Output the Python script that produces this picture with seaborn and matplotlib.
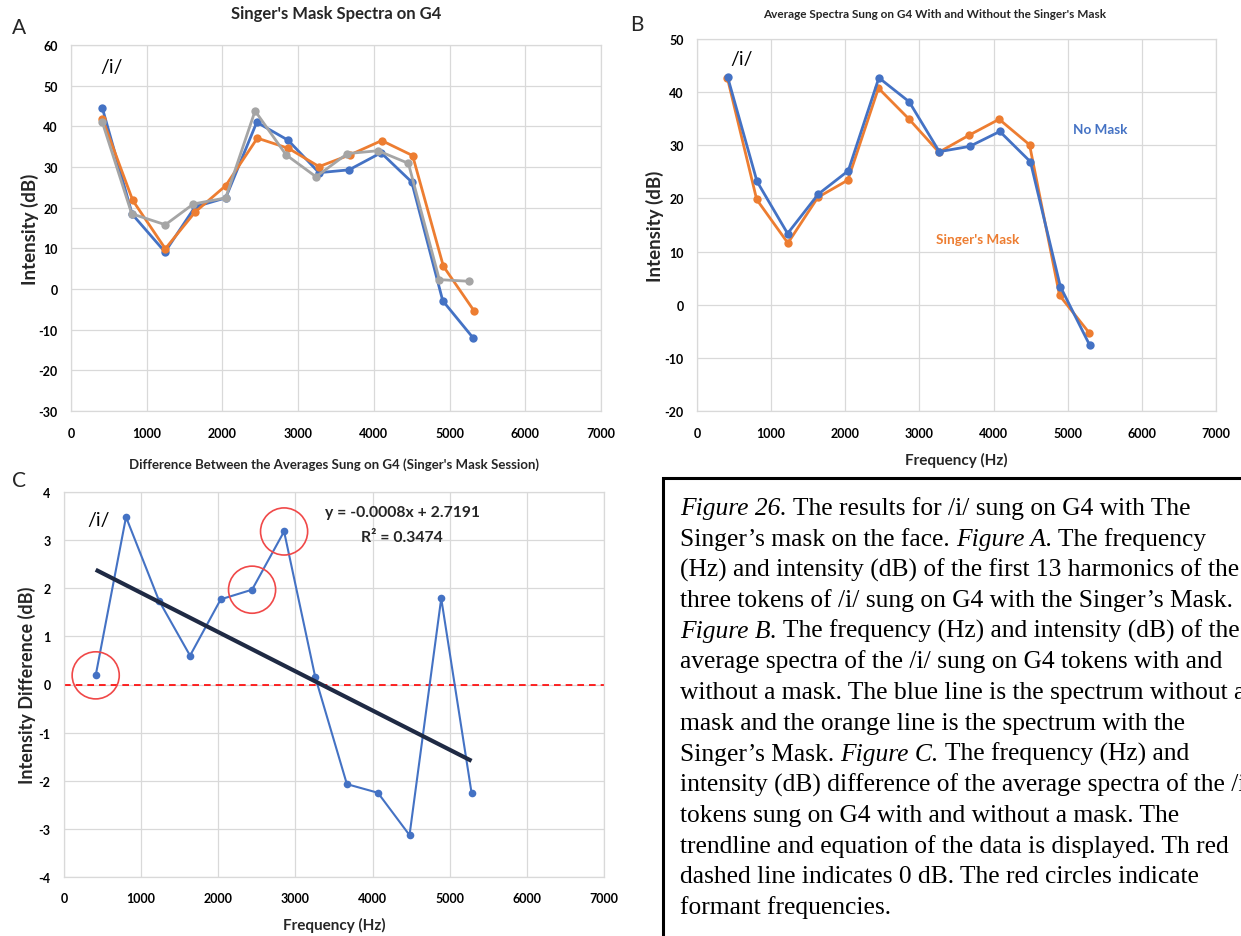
import matplotlib
matplotlib.use("Agg")
import matplotlib.pyplot as plt
from matplotlib.patches import Rectangle
import numpy as np
import pandas as pd
import seaborn as sns

# ---------------- data ----------------
# Panel A: three tokens of /i/ on G4 with the Singer's Mask (harmonics 1-13)
a_freq_1 = [414, 808, 1242, 1638, 2043, 2453, 2866, 3276, 3672, 4095, 4500, 4910, 5310]
a_int_1 = [44.5, 18.4, 9.1, 20.2, 22.4, 41.0, 36.6, 28.6, 29.3, 33.5, 26.3, -2.9, -12.0]
a_freq_2 = [414, 815, 1246, 1638, 2043, 2461, 2871, 3276, 3686, 4104, 4512, 4918, 5328]
a_int_2 = [41.9, 21.8, 9.9, 18.9, 25.4, 37.1, 34.6, 30.1, 33.0, 36.5, 32.8, 5.6, -5.5]
a_freq_3 = [414, 802, 1246, 1616, 2043, 2431, 2840, 3236, 3650, 4055, 4456, 4865, 5257]
a_int_3 = [41.0, 18.5, 15.8, 20.9, 22.4, 43.8, 33.0, 27.6, 33.3, 34.0, 30.9, 2.3, 1.9]

# Panel B: average spectra with and without the mask
b_freq_nomask = [414, 809, 1222, 1635, 2040, 2453, 2861, 3268, 3679, 4084, 4497, 4901, 5296]
b_int_nomask = [42.8, 23.2, 13.4, 20.8, 25.2, 42.7, 38.2, 28.8, 29.8, 32.6, 26.9, 3.4, -7.6]
b_freq_mask = [411, 805, 1226, 1630, 2035, 2447, 2855, 3263, 3670, 4075, 4485, 4890, 5290]
b_int_mask = [42.6, 19.8, 11.6, 20.2, 23.45, 40.75, 35.0, 28.7, 31.9, 34.9, 30.1, 1.75, -5.3]

# Panel C: difference between the averages (no mask - mask)
c_freq = [411, 804, 1232, 1634, 2032, 2438, 2853, 3256, 3667, 4069, 4479, 4890, 5283]
c_diff = [0.19, 3.48, 1.74, 0.60, 1.77, 1.97, 3.18, 0.16, -2.07, -2.25, -3.13, 1.79, -2.25]
formant_idx = [0, 5, 6]
trend_slope = -0.000815
trend_intercept = 2.7191
r_squared = 0.3474

freq_ticks = list(range(0, 7001, 1000))

# ---------------- style ----------------
sns.set_theme(style="whitegrid")
plt.rcParams["font.family"] = ["Lato", "DejaVu Sans"]
plt.rcParams["axes.unicode_minus"] = False
plt.rcParams["axes.edgecolor"] = "#D9D9D9"
plt.rcParams["grid.color"] = "#D9D9D9"
plt.rcParams["grid.linewidth"] = 0.9
plt.rcParams["axes.linewidth"] = 0.9

BLUE = "#4472C4"
ORANGE = "#ED7D31"
GRAY = "#A5A5A5"

W, H = 1241, 937
fig = plt.figure(figsize=(W / 100, H / 100), dpi=100)
fig.patch.set_facecolor("white")


def axes_px(left, right, top, bottom):
    return fig.add_axes([left / W, 1 - bottom / H, (right - left) / W, (bottom - top) / H])


def style_axes(ax, ylim, ystep, xpad, ypad, tick_size=9):
    ax.set_xlim(0, 7000)
    ax.set_ylim(*ylim)
    ax.set_xticks(freq_ticks)
    ax.set_yticks(np.arange(ylim[0], ylim[1] + 0.001, ystep))
    ax.tick_params(axis="both", length=0, labelsize=tick_size, colors="black")
    ax.tick_params(axis="x", pad=xpad)
    ax.tick_params(axis="y", pad=ypad)
    for lab in ax.get_xticklabels() + ax.get_yticklabels():
        lab.set_fontweight("bold")
    ax.set_facecolor("white")
    ax.grid(True, color="#D9D9D9", linewidth=0.9)
    for s in ax.spines.values():
        s.set_color("#D9D9D9")
        s.set_linewidth(0.9)


# ---------------- Panel A ----------------
axA = axes_px(71, 601, 46, 412)
dfA = pd.concat([
    pd.DataFrame({"Frequency (Hz)": a_freq_1, "Intensity (dB)": a_int_1, "Token": "Token 1"}),
    pd.DataFrame({"Frequency (Hz)": a_freq_2, "Intensity (dB)": a_int_2, "Token": "Token 2"}),
    pd.DataFrame({"Frequency (Hz)": a_freq_3, "Intensity (dB)": a_int_3, "Token": "Token 3"}),
], ignore_index=True)
sns.lineplot(data=dfA, x="Frequency (Hz)", y="Intensity (dB)", hue="Token",
             hue_order=["Token 1", "Token 2", "Token 3"], palette=[BLUE, ORANGE, GRAY],
             marker="o", markersize=6, markeredgewidth=0, linewidth=2,
             sort=False, estimator=None, legend=False, ax=axA)
style_axes(axA, (-30, 60), 10, xpad=11.5, ypad=9.4)
axA.set_xlabel("")
axA.set_ylabel("Intensity (dB)", fontsize=13.5, fontweight="bold")
axA.yaxis.set_label_coords(-0.077, 0.5)
axA.yaxis.label.set_va("center")
axA.text(540, 54.6, "/i/", fontsize=14, ha="center", va="center", color="black")
fig.text(336 / W, 1 - 14 / H, "Singer's Mask Spectra on G4", fontsize=12,
         fontweight="bold", ha="center", va="center")
fig.text(19 / W, 1 - 28 / H, "A", fontsize=15, ha="center", va="center")

# ---------------- Panel B ----------------
axB = axes_px(697, 1216, 40, 412)
dfB = pd.concat([
    pd.DataFrame({"Frequency (Hz)": b_freq_mask, "Intensity (dB)": b_int_mask, "Condition": "Singer's Mask"}),
    pd.DataFrame({"Frequency (Hz)": b_freq_nomask, "Intensity (dB)": b_int_nomask, "Condition": "No Mask"}),
], ignore_index=True)
sns.lineplot(data=dfB, x="Frequency (Hz)", y="Intensity (dB)", hue="Condition",
             hue_order=["Singer's Mask", "No Mask"], palette=[ORANGE, BLUE],
             marker="o", markersize=6, markeredgewidth=0, linewidth=2,
             sort=False, estimator=None, legend=False, ax=axB)
style_axes(axB, (-20, 50), 10, xpad=11.5, ypad=9.4)
axB.set_xlabel("Frequency (Hz)", fontsize=11, fontweight="bold")
axB.xaxis.set_label_coords(0.5, -0.129)
axB.xaxis.label.set_va("center")
axB.set_ylabel("Intensity (dB)", fontsize=13.5, fontweight="bold")
axB.yaxis.set_label_coords(-0.081, 0.5)
axB.yaxis.label.set_va("center")
axB.text(606, 46.3, "/i/", fontsize=14, ha="center", va="center", color="black")
axB.text(5445, 33.0, "No Mask", fontsize=9.7, fontweight="bold", color=BLUE, ha="center", va="center")
axB.text(3787, 12.4, "Singer's Mask", fontsize=9.7, fontweight="bold", color=ORANGE, ha="center", va="center")
fig.text(935 / W, 1 - 14 / H, "Average Spectra Sung on G4 With and Without the Singer's Mask",
         fontsize=8.5, fontweight="bold", ha="center", va="center")
fig.text(637 / W, 1 - 25 / H, "B", fontsize=15, ha="center", va="center")

# ---------------- Panel C ----------------
axC = axes_px(64, 604, 493, 878)
dfC = pd.DataFrame({"Frequency (Hz)": c_freq, "Intensity Difference (dB)": c_diff})
sns.lineplot(data=dfC, x="Frequency (Hz)", y="Intensity Difference (dB)", color=BLUE,
             marker="o", markersize=5.5, markeredgewidth=0, linewidth=1.5,
             sort=False, estimator=None, ax=axC)
style_axes(axC, (-4, 4), 1, xpad=11, ypad=9.7)
axC.axhline(0, color="#FF0000", linestyle=(0, (4, 3)), linewidth=1.2, zorder=1)
trend_x = np.array([c_freq[0], c_freq[-1]])
axC.plot(trend_x, trend_slope * trend_x + trend_intercept, color="#1F2A44", linewidth=3, zorder=3,
         solid_capstyle="butt")
sns.scatterplot(x=[c_freq[i] for i in formant_idx], y=[c_diff[i] for i in formant_idx],
                s=1150, facecolors="none", edgecolor="#F04848", linewidth=1.2, ax=axC, zorder=4)
axC.set_xlabel("Frequency (Hz)", fontsize=11, fontweight="bold")
axC.xaxis.set_label_coords(0.5, -0.122)
axC.xaxis.label.set_va("center")
axC.set_ylabel("Intensity Difference (dB)", fontsize=13, fontweight="bold")
axC.yaxis.set_label_coords(-0.069, 0.5)
axC.yaxis.label.set_va("center")
axC.text(454, 3.43, "/i/", fontsize=14, ha="center", va="center", color="black")
axC.text(4384, 3.58, f"y = {trend_slope:.4f}x + {trend_intercept:.4f}", fontsize=11.3,
         fontweight="bold", ha="center", va="center")
axC.text(4384, 3.06, f"R² = {r_squared:.4f}", fontsize=11.3, fontweight="bold",
         ha="center", va="center")
fig.text(334 / W, 1 - 465 / H, "Difference Between the Averages Sung on G4 (Singer's Mask Session)",
         fontsize=9.5, fontweight="bold", ha="center", va="center")
fig.text(19 / W, 1 - 481 / H, "C", fontsize=15, ha="center", va="center")

# ---------------- caption box ----------------
fig.add_artist(Rectangle((663 / W, -0.05), 1.1, 1 - 479 / H + 0.05, transform=fig.transFigure,
                         facecolor="white", edgecolor="black", linewidth=2.2))

caption = [
    [("Figure 26.", True), (" The results for /i/ sung on G4 with The", False)],
    [("Singer’s mask on the face. ", False), ("Figure A.", True), (" The frequency", False)],
    [("(Hz) and intensity (dB) of the first 13 harmonics of the", False)],
    [("three tokens of /i/ sung on G4 with the Singer’s Mask.", False)],
    [("Figure B.", True), (" The frequency (Hz) and intensity (dB) of the", False)],
    [("average spectra of the /i/ sung on G4 tokens with and", False)],
    [("without a mask. The blue line is the spectrum without a", False)],
    [("mask and the orange line is the spectrum with the", False)],
    [("Singer’s Mask. ", False), ("Figure C.", True), (" The frequency (Hz) and", False)],
    [("intensity (dB) difference of the average spectra of the /i/", False)],
    [("tokens sung on G4 with and without a mask. The", False)],
    [("trendline and equation of the data is displayed. Th red", False)],
    [("dashed line indicates 0 dB. The red circles indicate", False)],
    [("formant frequencies.", False)],
]
line0 = 515
line_gap = 30.7
cap_font = dict(family="Liberation Serif", fontsize=18.35, color="black")
renderer = fig.canvas.get_renderer()
for i, segs in enumerate(caption):
    y = 1 - (line0 + i * line_gap) / H
    x_px = 680.0
    for text, ital in segs:
        style = "italic" if ital else "normal"
        fig.text(x_px / W, y, text, style=style, va="baseline", ha="left", **cap_font)
        # advance by the drawn width (trailing spaces measured via a guard glyph)
        probe = fig.text(0, 0, text + "|", style=style, **cap_font)
        bar = fig.text(0, 0, "|", style=style, **cap_font)
        x_px += probe.get_window_extent(renderer).width - bar.get_window_extent(renderer).width
        probe.remove()
        bar.remove()

fig.savefig("out.png", dpi=100, facecolor="white")
